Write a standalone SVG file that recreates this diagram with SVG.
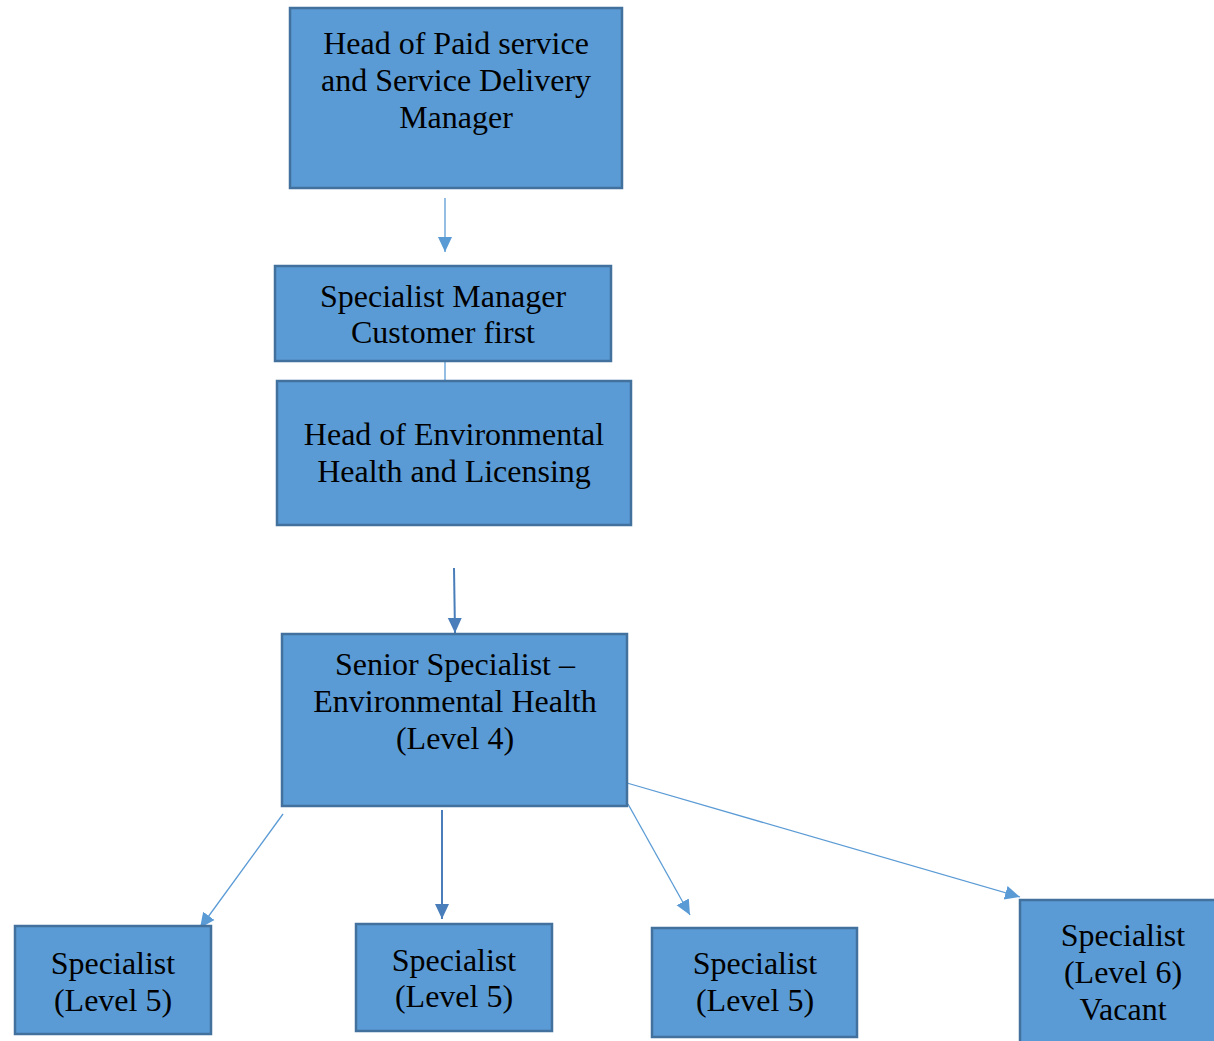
<svg xmlns="http://www.w3.org/2000/svg" width="1214" height="1041" viewBox="0 0 1214 1041">
<style>
.box{fill:#5B9BD5;stroke:#41719C;stroke-width:2.5}
.t{font-family:"Liberation Serif","Times New Roman",serif;font-size:32px;fill:#000;text-anchor:middle}
.lc{stroke:#5B9BD5;stroke-width:1.3;fill:none}
.dc{stroke:#4A7EBB;stroke-width:2;fill:none}
</style>
<defs>
<marker id="al" markerUnits="userSpaceOnUse" markerWidth="16" markerHeight="16" viewBox="0 0 16 16" refX="15" refY="8" orient="auto">
<path d="M0,1 L15,8 L0,15 Z" fill="#5B9BD5"/>
</marker>
<marker id="ad" markerUnits="userSpaceOnUse" markerWidth="16" markerHeight="16" viewBox="0 0 16 16" refX="15" refY="8" orient="auto">
<path d="M0,1 L15,8 L0,15 Z" fill="#4A7EBB"/>
</marker>
</defs>
<rect width="1214" height="1041" fill="#fff"/>
<g id="connectors">
<line class="lc" x1="445" y1="198" x2="445" y2="252" marker-end="url(#al)"/>
<line class="lc" x1="445" y1="361" x2="445" y2="381"/>
<line class="dc" x1="454" y1="568" x2="455" y2="633" marker-end="url(#ad)"/>
<line class="lc" x1="283" y1="814" x2="200" y2="928" marker-end="url(#al)"/>
<line class="dc" x1="442" y1="810" x2="442" y2="919" marker-end="url(#ad)"/>
<line class="lc" x1="628" y1="804" x2="690" y2="915" marker-end="url(#al)"/>
<line class="lc" x1="627" y1="783" x2="1020" y2="897" marker-end="url(#al)"/>
</g>
<g id="n1">
<rect class="box" x="290" y="8" width="332" height="180"/>
<text class="t" x="456" y="54">Head of Paid service</text>
<text class="t" x="456" y="91">and Service Delivery</text>
<text class="t" x="456" y="128">Manager</text>
</g>
<g id="n2">
<rect class="box" x="275" y="266" width="336" height="95"/>
<text class="t" x="443" y="307">Specialist Manager</text>
<text class="t" x="443" y="343">Customer first</text>
</g>
<g id="n3">
<rect class="box" x="277" y="381" width="354" height="144"/>
<text class="t" x="454" y="445">Head of Environmental</text>
<text class="t" x="454" y="482">Health and Licensing</text>
</g>
<g id="n4">
<rect class="box" x="282" y="634" width="345" height="172"/>
<text class="t" x="455" y="675">Senior Specialist –</text>
<text class="t" x="455" y="712">Environmental Health</text>
<text class="t" x="455" y="749">(Level 4)</text>
</g>
<g id="n5">
<rect class="box" x="15" y="926" width="196" height="108"/>
<text class="t" x="113" y="974">Specialist</text>
<text class="t" x="113" y="1011">(Level 5)</text>
</g>
<g id="n6">
<rect class="box" x="356" y="924" width="196" height="107"/>
<text class="t" x="454" y="971">Specialist</text>
<text class="t" x="454" y="1007">(Level 5)</text>
</g>
<g id="n7">
<rect class="box" x="652" y="928" width="205" height="109"/>
<text class="t" x="755" y="974">Specialist</text>
<text class="t" x="755" y="1011">(Level 5)</text>
</g>
<g id="n8">
<rect class="box" x="1020" y="900" width="205" height="150"/>
<text class="t" x="1123" y="946">Specialist</text>
<text class="t" x="1123" y="983">(Level 6)</text>
<text class="t" x="1123" y="1020">Vacant</text>
</g>
</svg>
